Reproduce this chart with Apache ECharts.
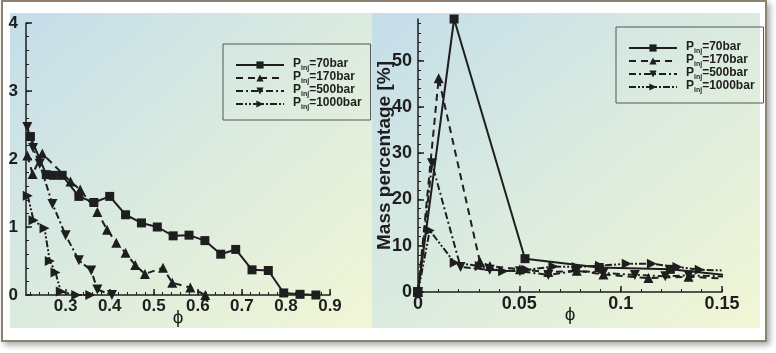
<!DOCTYPE html>
<html>
<head>
<meta charset="utf-8">
<script src="https://cdn.jsdelivr.net/npm/echarts@6/dist/echarts.min.js"></script>
<style>
  html, body { margin: 0; padding: 0; background: #fff; }
  #wrap { position: relative; width: 776px; height: 353px; background: #fff; overflow: hidden; }
  #frame { position: absolute; left: 1px; top: 0; width: 766px; height: 342px; box-sizing: border-box;
           border: 2px solid #8b8272; background: #fff; box-shadow: 3px 3px 6px rgba(0, 0, 0, 0.35); }
  .panel { position: absolute; top: 13px; height: 315px;
           background: linear-gradient(to bottom right, #c4ddea 0%, #dbebdf 50%, #f1f6d5 100%); }
  #p1 { left: 10px; width: 362px; }
  #p2 { left: 372px; width: 388px; }
  #chart { position: absolute; left: 0; top: 0; width: 776px; height: 353px; }
</style>
</head>
<body>
<div id="wrap">
  <div id="frame"></div>
  <div class="panel" id="p1"></div>
  <div class="panel" id="p2"></div>
  <div id="chart"></div>
</div>
<script>
// ---- data ----
// left panel: phi vs value, one [phi, y] pair per marker
var left70 = [[0.220, 2.33], [0.256, 1.77], [0.272, 1.76], [0.292, 1.76], [0.330, 1.45], [0.364, 1.36],
  [0.400, 1.45], [0.436, 1.18], [0.472, 1.06], [0.508, 1.00], [0.544, 0.87], [0.580, 0.88],
  [0.616, 0.80], [0.652, 0.60], [0.686, 0.67], [0.723, 0.37], [0.760, 0.36], [0.795, 0.03],
  [0.832, 0.01], [0.868, 0.0]];
var left170 = [[0.213, 2.05], [0.225, 1.78], [0.247, 2.08], [0.311, 1.67], [0.333, 1.55], [0.372, 1.22],
  [0.394, 0.96], [0.415, 0.77], [0.436, 0.62], [0.458, 0.44], [0.480, 0.31], [0.521, 0.40],
  [0.542, 0.18], [0.583, 0.11], [0.617, 0.0]];
var left500 = [[0.213, 2.47], [0.226, 2.16], [0.241, 1.93], [0.270, 1.34], [0.300, 0.88], [0.330, 0.51],
  [0.358, 0.36], [0.372, 0.08], [0.405, 0.0]];
var left1000 = [[0.214, 1.46], [0.227, 1.10], [0.252, 0.98], [0.264, 0.50], [0.277, 0.33], [0.289, 0.05],
  [0.324, 0.0], [0.356, 0.0]];

// right panel: phi vs mass percentage [%]
var right70 = [[0, 0], [0.0178, 59], [0.0528, 7.2], [0.0894, 5.3], [0.1245, 4.9], [0.155, 3.5]];
var right170 = [[0, 0], [0.0102, 46.2], [0.0305, 6.6], [0.0355, 5.6], [0.0503, 4.9], [0.0643, 4.3],
  [0.0783, 4.6], [0.0915, 3.8], [0.1137, 3.0], [0.1335, 3.3], [0.155, 2.8]];
var right500 = [[0, 0], [0.0069, 27.8], [0.021, 5.4], [0.0354, 4.8], [0.0503, 4.5], [0.0643, 3.7],
  [0.0783, 4.6], [0.0915, 4.1], [0.107, 3.7], [0.122, 3.4], [0.1335, 3.6], [0.155, 3.3]];
var right1000 = [[0, 0], [0.0058, 13.3], [0.0181, 6.3], [0.0305, 5.6], [0.042, 4.5], [0.0536, 4.8],
  [0.0668, 5.5], [0.0783, 5.4], [0.0898, 5.7], [0.103, 6.1], [0.1154, 6.1], [0.128, 5.4],
  [0.139, 4.8], [0.155, 4.6]];

var seriesNames = ['70bar', '170bar', '500bar', '1000bar'];

// tick labels
var leftXLabels = [0.3, 0.4, 0.5, 0.6, 0.7, 0.8, 0.9];
var leftYLabels = [0, 1, 2, 3, 4];
var rightXLabels = [0, 0.05, 0.1, 0.15];
var rightYLabels = [0, 10, 20, 30, 40, 50];

function steps(a, b, d) {
  var out = [];
  for (var v = a; v <= b + d / 2; v += d) out.push(+v.toFixed(4));
  return out;
}
var leftXMinor = steps(0.22, 0.9, 0.02);
var leftYMinor = steps(0, 4, 0.2);
var rightXMinor = steps(0, 0.15, 0.01);
var rightYMinor = steps(0, 58, 2);

var FONT = "'Liberation Sans', Arial, sans-serif";
var INK = '#1e1e1e';

var styles = [
  { symbol: 'rect', symbolSize: 9, symbolRotate: 0, type: 'solid' },
  { symbol: 'triangle', symbolSize: 10, symbolRotate: 0, type: [7, 5] },
  { symbol: 'triangle', symbolSize: 10, symbolRotate: 180, type: [7, 3, 2, 3] },
  { symbol: 'triangle', symbolSize: 10, symbolRotate: -90, type: [7, 2, 2, 2, 2, 2] }
];

function makeSeries(data, i, axisIdx) {
  var s = styles[i];
  return {
    name: seriesNames[i],
    type: 'line',
    xAxisIndex: axisIdx,
    yAxisIndex: axisIdx,
    data: data,
    clip: true,
    symbol: s.symbol,
    symbolSize: s.symbolSize,
    symbolRotate: s.symbolRotate,
    showAllSymbol: true,
    itemStyle: { color: INK },
    lineStyle: { color: INK, width: 2, type: s.type },
    animation: false
  };
}

// labelled axis: line, long ticks and tick labels
function majorAxis(grid, min, max, labels, pos, size, margin) {
  return {
    type: 'value', gridIndex: grid, min: min, max: max, position: pos,
    axisLine: { show: true, onZero: false, lineStyle: { color: INK, width: 1.5 } },
    axisTick: { show: true, inside: true, length: 6, customValues: labels, lineStyle: { color: INK, width: 1.5 } },
    axisLabel: { customValues: labels, color: INK, fontFamily: FONT, fontWeight: 'bold', fontSize: size, margin: margin },
    splitLine: { show: false }
  };
}
// overlay axis: short ticks only, carries the axis name
function minorAxis(grid, min, max, ticks, pos, nameOpts) {
  var ax = {
    type: 'value', gridIndex: grid, min: min, max: max, position: pos,
    axisLine: { show: false, onZero: false },
    axisTick: { show: true, inside: true, length: 3, customValues: ticks, lineStyle: { color: INK, width: 1 } },
    axisLabel: { show: false },
    splitLine: { show: false }
  };
  for (var k in nameOpts) ax[k] = nameOpts[k];
  return ax;
}

function legendFor(left, top) {
  return {
    orient: 'vertical', left: left, top: top,
    padding: [14, 9, 9, 12],
    itemWidth: 48, itemHeight: 9, itemGap: -1,
    borderColor: '#555', borderWidth: 1,
    data: seriesNames,
    formatter: function (name) { return '{p|P}{s|inj}{p|=' + name + '}'; },
    textStyle: {
      padding: [0, 0, 0, 4],
      rich: {
        p: { fontSize: 12, fontWeight: 'bold', fontFamily: FONT, color: INK, lineHeight: 14, verticalAlign: 'top' },
        s: { fontSize: 7, fontWeight: 'bold', fontFamily: FONT, color: INK, lineHeight: 6, verticalAlign: 'bottom' }
      }
    }
  };
}

var phiName = {
  name: '\u03d5', nameLocation: 'middle', nameGap: 13,
  nameTextStyle: { fontSize: 19, color: INK, fontFamily: FONT }
};
var massName = {
  name: 'Mass percentage [%]', nameLocation: 'middle', nameGap: 24,
  nameTextStyle: { fontSize: 19, fontWeight: 'bold', color: INK, fontFamily: FONT }
};

var chart = echarts.init(document.getElementById('chart'));

var series = [];
[left70, left170, left500, left1000].forEach(function (d, i) { series.push(makeSeries(d, i, 0)); });
[right70, right170, right500, right1000].forEach(function (d, i) { series.push(makeSeries(d, i, 2)); });

chart.setOption({
  animation: false,
  backgroundColor: 'transparent',
  textStyle: { fontFamily: FONT },
  legend: [legendFor(223, 44), legendFor(616, 27)],
  grid: [
    { left: 26, top: 23, width: 304, height: 272, containLabel: false },
    { left: 418, top: 19, width: 304, height: 273, containLabel: false }
  ],
  xAxis: [
    majorAxis(0, 0.21, 0.9, leftXLabels, 'bottom', 17, 3),
    minorAxis(0, 0.21, 0.9, leftXMinor, 'bottom', phiName),
    majorAxis(1, 0, 0.15, rightXLabels, 'bottom', 18, 3),
    minorAxis(1, 0, 0.15, rightXMinor, 'bottom', phiName)
  ],
  yAxis: [
    majorAxis(0, 0, 4, leftYLabels, 'left', 17, 8),
    minorAxis(0, 0, 4, leftYMinor, 'left', {}),
    majorAxis(1, 0, 59, rightYLabels, 'left', 18, 6),
    minorAxis(1, 0, 59, rightYMinor, 'left', massName)
  ],
  series: series
});
</script>
</body>
</html>
